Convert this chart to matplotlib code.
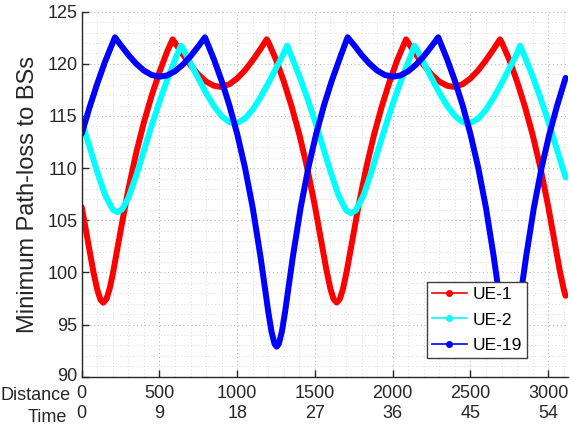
import matplotlib
matplotlib.use("Agg")
import matplotlib.pyplot as plt
from matplotlib.lines import Line2D
from matplotlib.ticker import MultipleLocator
from matplotlib.transforms import ScaledTranslation

plt.rcParams['font.family'] = ['Liberation Sans', 'DejaVu Sans']

# ---------------- data ----------------
ue1_x = [0, 25, 50, 75, 100, 120, 139, 160, 180, 200, 250, 300, 350, 400, 450, 500, 550, 585,
         600, 650, 700, 750, 800, 850, 888, 900, 950, 1000, 1050, 1100, 1150, 1190,
         1200, 1250, 1300, 1350, 1400, 1450, 1500, 1550, 1575, 1600, 1620, 1640, 1660, 1680,
         1705, 1730, 1780, 1830, 1880, 1930, 1980, 2030, 2086,
         2100, 2150, 2200, 2250, 2300, 2350, 2388, 2400, 2450, 2500, 2550, 2600, 2650, 2690,
         2700, 2750, 2800, 2850, 2900, 2950, 3000, 3050, 3075, 3100, 3112]
ue1_y = [106.27, 104.23, 102.13, 100.08, 98.34, 97.41, 97.10, 97.48, 98.46, 99.84, 103.98,
         107.96, 111.43, 114.39, 116.96, 119.21, 121.20, 122.35,
         122.02, 120.90, 119.87, 118.98, 118.30, 117.90, 117.80, 117.81, 118.05, 118.60,
         119.38, 120.35, 121.43, 122.35,
         122.10, 120.39, 118.30, 115.92, 113.20, 110.04, 106.35, 102.21, 100.15, 98.39, 97.44,
         97.10, 97.44, 98.39, 100.15, 102.21, 106.35, 110.04, 113.20, 115.92, 118.30, 120.39,
         122.35,
         122.02, 120.90, 119.87, 118.98, 118.30, 117.90, 117.80, 117.81, 118.05, 118.60,
         119.38, 120.35, 121.43, 122.35,
         122.10, 120.39, 118.30, 115.92, 113.20, 110.04, 106.35, 102.21, 100.15, 98.39, 97.76]

ue2_x = [0, 50, 100, 150, 200, 229, 260, 300, 350, 400, 450, 500, 550, 600, 638,
         650, 700, 750, 800, 850, 900, 950, 983, 1000, 1050, 1100, 1150, 1200, 1250, 1300, 1322,
         1350, 1400, 1450, 1500, 1550, 1600, 1650, 1700, 1732, 1764, 1814, 1864, 1914, 1964,
         2014, 2064, 2114, 2139,
         2150, 2200, 2250, 2300, 2350, 2400, 2450, 2484, 2500, 2550, 2600, 2650, 2700, 2750,
         2800, 2819,
         2850, 2900, 2950, 3000, 3050, 3112]
ue2_y = [114.47, 112.07, 109.63, 107.44, 106.02, 105.77, 106.05, 107.14, 109.25, 111.68,
         114.09, 116.38, 118.47, 120.39, 121.74,
         121.50, 120.05, 118.60, 117.20, 115.96, 114.99, 114.41, 114.30, 114.34, 114.75,
         115.61, 116.79, 118.14, 119.58, 121.04, 121.74,
         120.69, 118.81, 116.75, 114.51, 112.11, 109.67, 107.45, 105.97, 105.67, 105.97,
         107.45, 109.67, 112.11, 114.51, 116.75, 118.81, 120.69, 121.74,
         121.52, 120.08, 118.63, 117.23, 115.98, 115.00, 114.42, 114.30, 114.34, 114.74,
         115.60, 116.77, 118.12, 119.55, 121.00, 121.74,
         120.69, 118.81, 116.75, 114.51, 112.11, 109.10]

ue19_x = [0, 50, 100, 150, 214, 250, 300, 350, 400, 450, 503, 550, 600, 650, 700, 750, 793,
          800, 850, 900, 950, 1000, 1050, 1100, 1150, 1175, 1200, 1220, 1240, 1254, 1268, 1288,
          1308, 1333, 1358, 1408, 1458, 1508, 1558, 1608, 1658, 1710,
          1750, 1800, 1850, 1900, 1950, 2004, 2050, 2100, 2150, 2200, 2250, 2293,
          2300, 2350, 2400, 2450, 2500, 2550, 2600, 2650, 2675, 2700, 2720, 2740, 2754, 2768,
          2788, 2808, 2833, 2858, 2908, 2958, 3008, 3058, 3112]
ue19_y = [113.30, 115.80, 118.10, 120.20, 122.55, 121.82, 120.86, 120.02, 119.36, 118.93,
          118.77, 118.89, 119.29, 119.92, 120.73, 121.68, 122.55,
          122.28, 120.45, 118.37, 116.01, 113.28, 110.06, 106.19, 101.50, 98.86, 96.22, 94.37,
          93.15, 92.88, 93.15, 94.37, 96.22, 98.86, 101.50, 106.19, 110.06, 113.28, 116.01,
          118.37, 120.45, 122.55,
          121.83, 120.86, 120.03, 119.36, 118.93, 118.77, 118.89, 119.29, 119.92, 120.73,
          121.68, 122.55,
          122.28, 120.45, 118.37, 116.01, 113.28, 110.06, 106.19, 101.50, 98.86, 96.22, 94.37,
          93.15, 92.88, 93.15, 94.37, 96.22, 98.86, 101.50, 106.19, 110.06, 113.28, 116.01,
          118.65]

series_names = ['UE-1', 'UE-2', 'UE-19']
series_colors = ['#ff0000', '#00ffff', '#0000ff']

dist_ticks = [0, 500, 1000, 1500, 2000, 2500, 3000]
time_labels = ['0', '9', '18', '27', '36', '45', '54']
y_ticks = [90, 95, 100, 105, 110, 115, 120, 125]

# ---------------- figure ----------------
W, H = 571, 430
fig = plt.figure(figsize=(W / 100, H / 100), dpi=100)
L, R, T, B = 81.7, 567.6, 11.7, 376.7
ax = fig.add_axes([L / W, (H - B) / H, (R - L) / W, (B - T) / H])

for xs, ys, c in zip([ue1_x, ue2_x, ue19_x], [ue1_y, ue2_y, ue19_y], series_colors):
    ax.plot(xs, ys, color=c, lw=4.3, solid_joinstyle='round', solid_capstyle='round')

ax.set_xlim(0, 3125)
ax.set_ylim(90, 125)
ax.set_xticks(dist_ticks)
ax.set_xticklabels([f"{d}\n{t}" for d, t in zip(dist_ticks, time_labels)],
                   linespacing=1.25)
ax.set_yticks(y_ticks)
ax.set_yticklabels([str(v) for v in y_ticks])
ax.xaxis.set_minor_locator(MultipleLocator(100))
ax.yaxis.set_minor_locator(MultipleLocator(1))

ax.tick_params(which='major', direction='in', length=5, width=1, labelsize=13,
               colors='#262626', pad=3)
ax.tick_params(axis='x', which='major', pad=6)
ax.tick_params(which='minor', length=0)
for lab in ax.get_xticklabels() + ax.get_yticklabels():
    lab.set_color('#262626')

# nudge the lowest y label up slightly so it does not collide with "Distance"
lab90 = ax.get_yticklabels()[0]
lab90.set_transform(lab90.get_transform() + ScaledTranslation(0, 0.025, fig.dpi_scale_trans))

ax.grid(which='major', linestyle=(0, (1, 2.5)), color='#b8b8b8', lw=0.8)
ax.grid(which='minor', linestyle=(0, (1, 2.5)), color='#dadada', lw=0.7)
ax.set_axisbelow(True)
for s in ['top', 'right']:
    ax.spines[s].set_visible(False)
for s in ['left', 'bottom']:
    ax.spines[s].set_color('#262626')
    ax.spines[s].set_linewidth(1.0)

ax.set_ylabel('Minimum Path-loss to BSs', fontsize=17, color='#262626', labelpad=6)

fig.text(71 / W, 1 - 395 / H, 'Distance', ha='right', va='center', fontsize=13,
         color='#262626')
fig.text(67 / W, 1 - 417 / H, 'Time', ha='right', va='center', fontsize=13,
         color='#262626')

handles = [Line2D([0], [0], color=c, lw=1.2, marker='.', markersize=8) for c in series_colors]
leg = ax.legend(handles, series_names, loc='lower left', bbox_to_anchor=(0.710, 0.0504),
                borderaxespad=0, fontsize=12.5, handlelength=2.0, handletextpad=0.35,
                labelspacing=0.6, borderpad=0.3, fancybox=False, framealpha=1,
                edgecolor='#404040')
leg.get_frame().set_linewidth(1.0)

fig.savefig('out.png', dpi=100)
